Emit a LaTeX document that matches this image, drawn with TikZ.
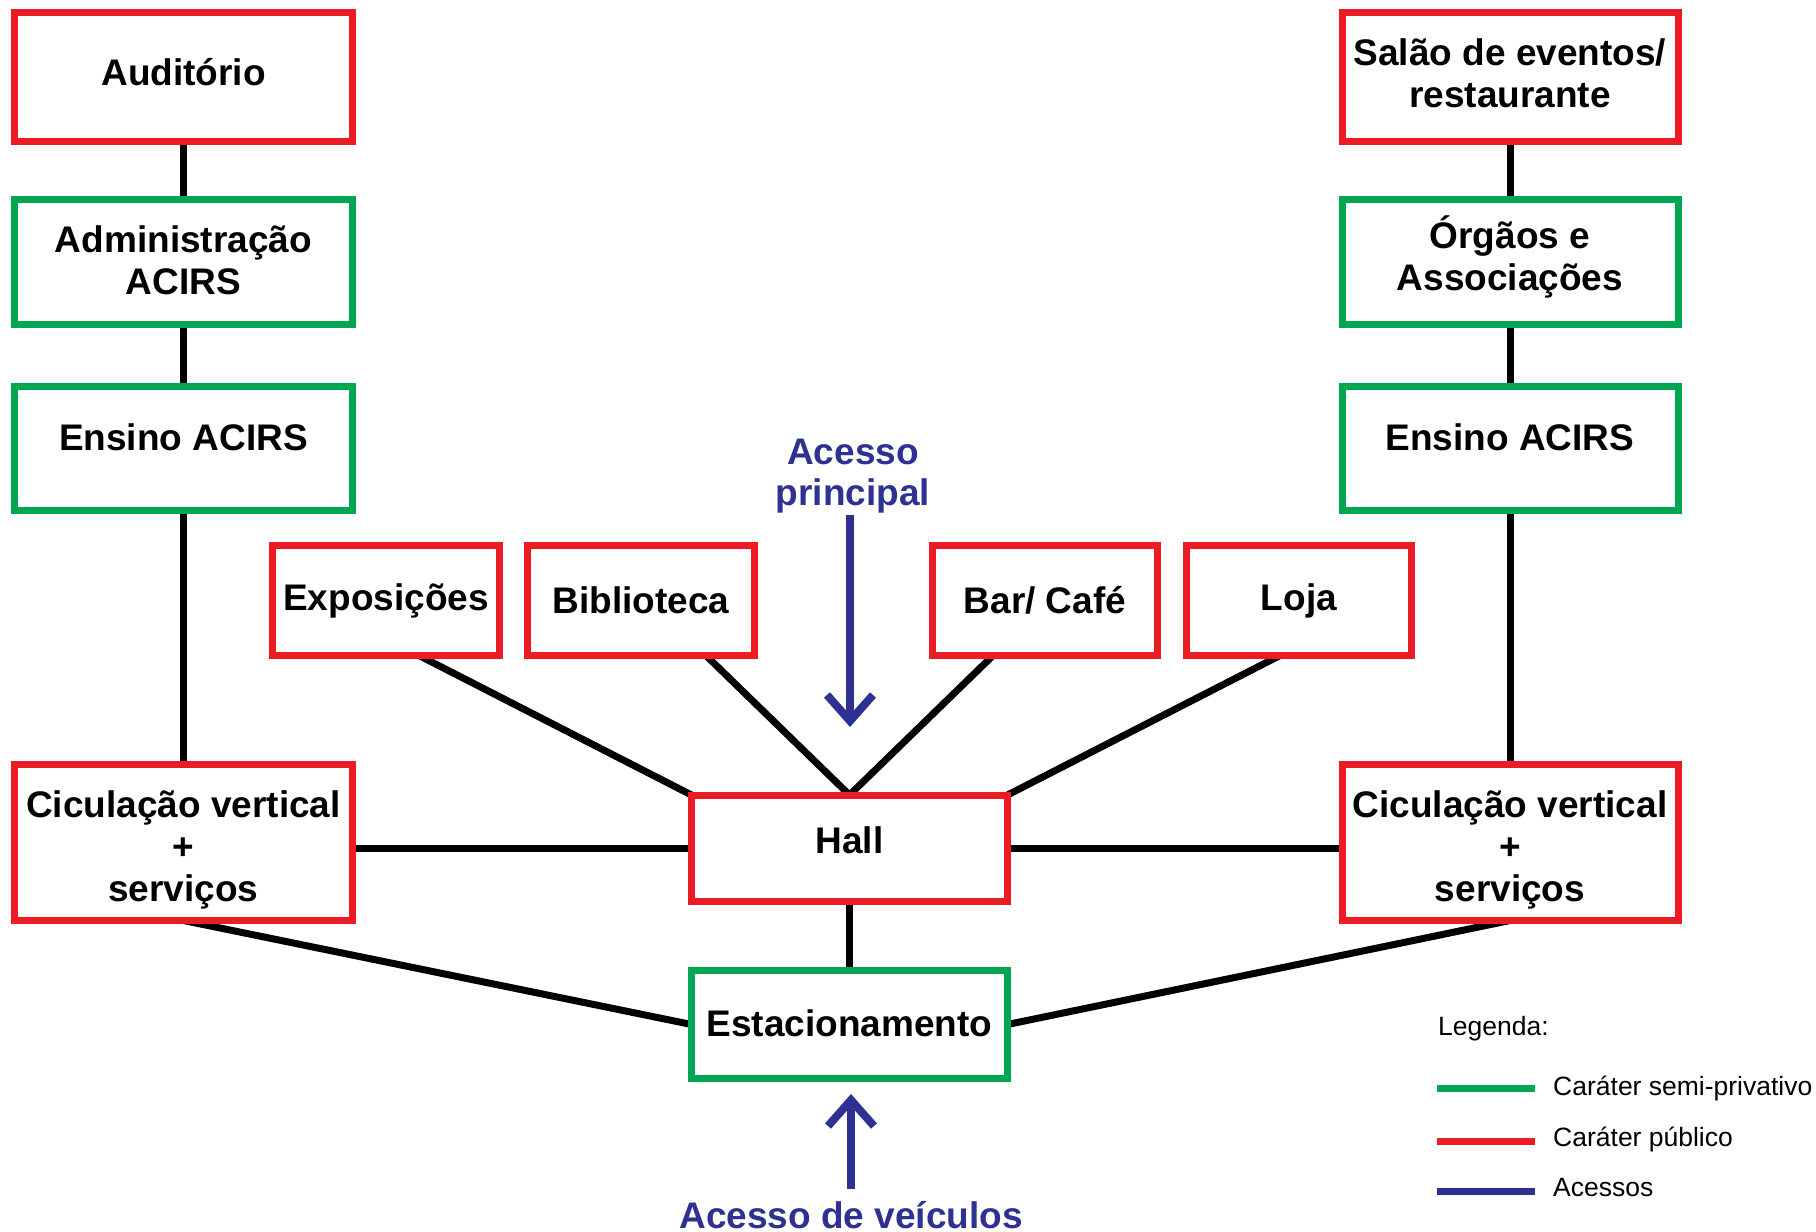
\documentclass[tikz,border=0pt]{standalone}
\usepackage{fontspec}
\setmainfont{Liberation Sans}
\usetikzlibrary{arrows.meta,backgrounds}
\definecolor{cred}{HTML}{ED1C24}
\definecolor{cgreen}{HTML}{00A651}
\definecolor{cblue}{HTML}{2E3192}
\newcommand{\mline}[2]{\raisebox{#1}[\height][\depth]{\begin{tabular}{@{}c@{}}#2\end{tabular}}}
\newcommand{\sline}[2]{\raisebox{#1}[\height][\depth]{#2}}
\begin{document}
\begin{tikzpicture}[x=1pt,y=-1pt,
  box/.style={draw, line width=7pt, fill=white, align=center, inner sep=0pt, outer sep=0pt,
    font=\fontsize{37}{42}\selectfont\bfseries},
  pub/.style={box, draw=cred},
  semi/.style={box, draw=cgreen},
  conn/.style={line width=7pt, black},
  accarrow/.style={line width=8pt, cblue, -{Straight Barb[length=26pt,width=46pt]}},
  acctext/.style={text=cblue, font=\fontsize{37}{41}\selectfont\bfseries, align=center, inner sep=0pt},
  legtext/.style={font=\fontsize{26.5}{30}\selectfont, inner sep=0pt},
  legline/.style={line width=7pt}
]
\useasboundingbox (0,0) rectangle (1816,1232);

% left column
\node[pub,  minimum width=338pt, minimum height=129pt] (aud)   at (183.5,77)    {\sline{4.6pt}{Auditório}};
\node[semi, minimum width=338pt, minimum height=125pt] (adm)   at (183.5,262)   {\mline{-3.5pt}{Administração\\ACIRS}};
\node[semi, minimum width=338pt, minimum height=124pt] (ensL)  at (183.5,448)   {\sline{10.4pt}{Ensino ACIRS}};
\node[pub,  minimum width=338pt, minimum height=156pt] (cicL)  at (183.5,842.5) {\mline{-8.1pt}{Ciculação vertical\\+\\serviços}};
% right column
\node[pub,  minimum width=336pt, minimum height=129pt] (salao) at (1510,77)    {\mline{-1.2pt}{Salão de eventos/\\restaurante}};
\node[semi, minimum width=336pt, minimum height=125pt] (org)   at (1510,262)   {\mline{2.3pt}{Órgãos e\\Associações}};
\node[semi, minimum width=336pt, minimum height=124pt] (ensR)  at (1510,448)   {\sline{10.4pt}{Ensino ACIRS}};
\node[pub,  minimum width=336pt, minimum height=156pt] (cicR)  at (1510,842.5) {\mline{-8.1pt}{Ciculação vertical\\+\\serviços}};
% centre
\node[pub,  minimum width=316pt, minimum height=106pt] (hall)  at (849.5,848)   {\sline{8.1pt}{Hall}};
\node[semi, minimum width=316pt, minimum height=108pt] (est)   at (849.5,1024.5){\sline{1.2pt}{Estacionamento}};
\node[pub,  minimum width=227pt, minimum height=110pt] (expo)  at (386,600.5)   {Exposições};
\node[pub,  minimum width=227pt, minimum height=110pt] (bib)   at (641,600.5)   {Biblioteca};
\node[pub,  minimum width=225pt, minimum height=110pt] (bar)   at (1045,600.5)  {Bar/ Café};
\node[pub,  minimum width=225pt, minimum height=110pt] (loja)  at (1299,600.5)  {Loja};

\begin{scope}[on background layer]
  \fill[white] (0,0) rectangle (1816,1232);
  \draw[conn] (aud) -- (adm);
  \draw[conn] (adm) -- (ensL);
  \draw[conn] (ensL) -- (cicL);
  \draw[conn] (salao) -- (org);
  \draw[conn] (org) -- (ensR);
  \draw[conn] (ensR) -- (cicR);
  \draw[conn] (hall.west) -- (hall.west -| cicL.east);
  \draw[conn] (hall.east) -- (hall.east -| cicR.west);
  \draw[conn] (hall) -- (est);
  \draw[conn] (cicL.south) -- (est.west);
  \draw[conn] (cicR.south) -- (est.east);
  \draw[conn] ([xshift=33pt]expo.south) -- (hall.north west);
  \draw[conn] ([xshift=65pt]bib.south) -- (hall.north);
  \draw[conn] ([xshift=-52pt]bar.south) -- (hall.north);
  \draw[conn] ([xshift=-19pt]loja.south) -- (hall.north east);
\end{scope}

% accesses
\node[acctext] (accp) at (853,476) {Acesso\\principal};
\coordinate (a1s) at (850,515);
\coordinate (a1e) at (850,727);
\draw[accarrow] (a1s) -- (a1e);
\node[acctext, anchor=base] (accv) at (851,1228) {Acesso de veículos};
\coordinate (a2s) at (851,1189);
\coordinate (a2e) at (851,1094);
\draw[accarrow] (a2s) -- (a2e);

% legend
\node[legtext, anchor=base west] (leg) at (1438,1035) {Legenda:};
\draw[legline, cgreen] (1437,1088) -- (1535,1088);
\draw[legline, cred]   (1437,1141) -- (1535,1141);
\draw[legline, cblue]  (1437,1191) -- (1535,1191);
\node[legtext, anchor=base west] (l1) at (1553,1095)   {Caráter semi-privativo};
\node[legtext, anchor=base west] (l2) at (1553,1146.5) {Caráter público};
\node[legtext, anchor=base west] (l3) at (1553,1196.5) {Acessos};
\end{tikzpicture}
\end{document}
